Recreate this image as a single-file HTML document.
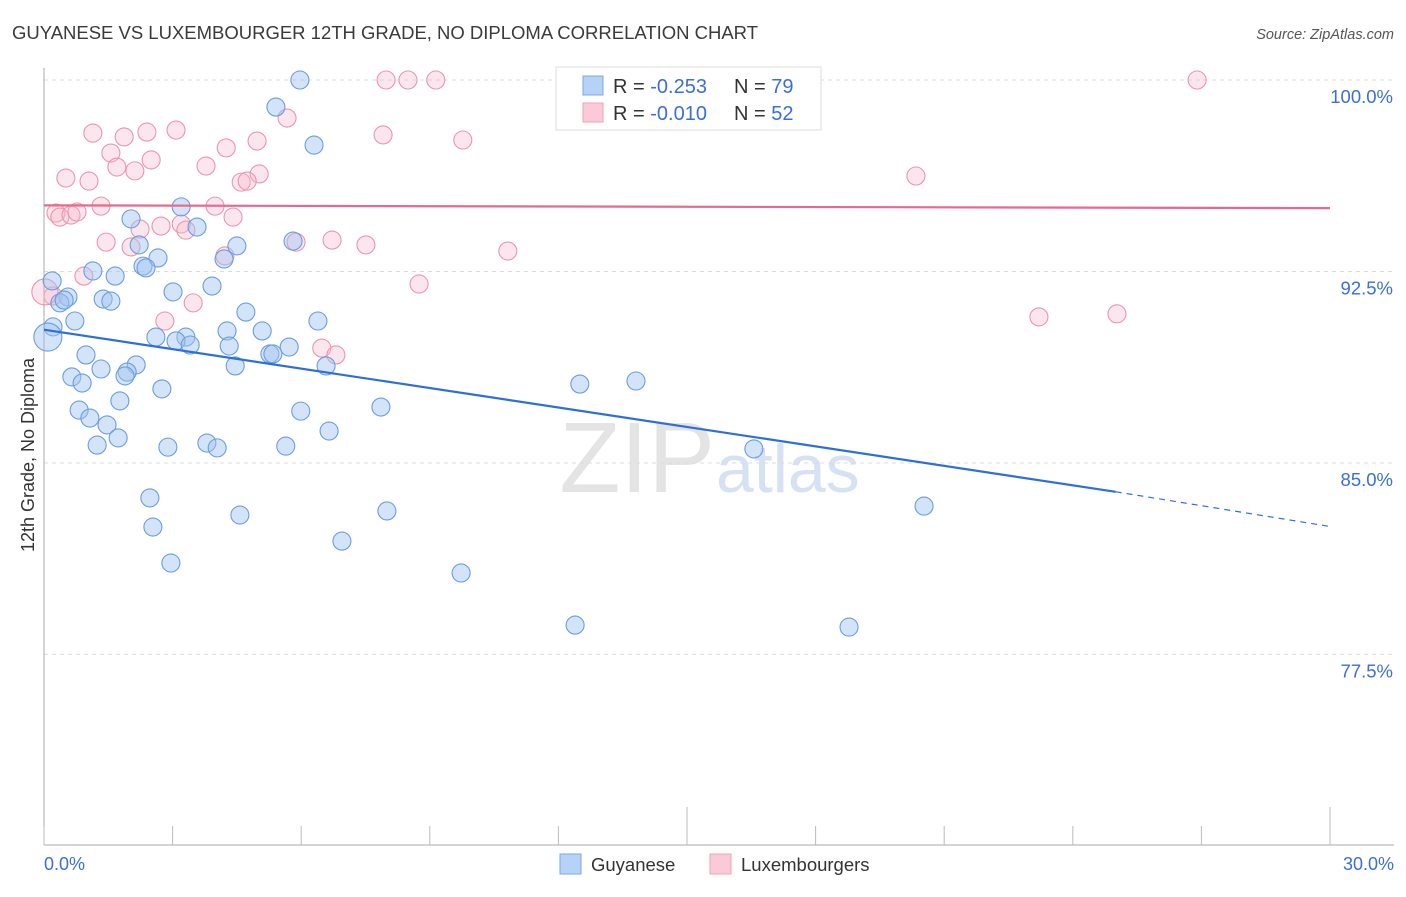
<!DOCTYPE html>
<html><head><meta charset="utf-8"><style>
body{margin:0;background:#fff;font-family:"Liberation Sans",sans-serif;}
svg text{font-family:"Liberation Sans",sans-serif;}
</style></head><body>
<svg width="1406" height="892" id="c">
<text x="12" y="39" font-size="18.5" fill="#3a3a3a" textLength="746">GUYANESE VS LUXEMBOURGER 12TH GRADE, NO DIPLOMA CORRELATION CHART</text>
<text x="1394" y="39" font-size="14.5" fill="#555" font-style="italic" text-anchor="end">Source: ZipAtlas.com</text>
<text x="0" y="0" transform="translate(34,455) rotate(-90)" font-size="18" fill="#333" text-anchor="middle">12th Grade, No Diploma</text>
<text x="715" y="492" font-size="100" fill="#e4e4e4" text-anchor="end" font-family="Liberation Serif">ZIP</text>
<text x="716" y="492" font-size="68" fill="#d6e2f4">atlas</text>
<g id="grid"></g><g id="axes"></g><g id="pts"></g><g id="trend"></g>
<g>
<rect x="556" y="67" width="265" height="63" fill="#fff" stroke="#ddd"/>
<rect x="583" y="76" width="20" height="19" fill="#b6d2f6" stroke="#7aa7e4"/>
<rect x="583" y="103" width="20" height="19" fill="#fbc9d7" stroke="#eda3b9"/>
<text x="613" y="93" font-size="20" fill="#333">R = <tspan fill="#3a6fd8">-0.253</tspan><tspan x="734">N = </tspan><tspan fill="#3a6fd8">79</tspan></text>
<text x="613" y="120" font-size="20" fill="#333">R = <tspan fill="#3a6fd8">-0.010</tspan><tspan x="734">N = </tspan><tspan fill="#3a6fd8">52</tspan></text>
</g>
<g>
<rect x="560" y="854" width="21" height="20" fill="#b6d2f6" stroke="#7aa7e4"/>
<text x="591" y="871" font-size="18.5" fill="#333">Guyanese</text>
<rect x="710" y="854" width="21" height="20" fill="#fbc9d7" stroke="#eda3b9"/>
<text x="741" y="871" font-size="18.5" fill="#333">Luxembourgers</text>
</g>
</svg>
<script>
const yTicks=[100,92.5,85,77.5];
const xTickLabels=["0.0%","30.0%"];
const blueX=[5.97,5.41,6.30,3.20,2.03,3.57,2.22,4.50,5.81,4.20,2.66,2.31,2.38,1.14,1.66,0.19,3.92,3.01,0.56,0.37,1.38,1.56,4.71,6.39,0.72,0.21,5.09,4.27,2.61,3.31,3.08,3.41,4.32,5.72,5.27,5.34,0.98,6.58,4.46,2.15,1.33,1.94,1.89,0.65,0.89,2.75,12.50,13.81,1.77,7.86,0.82,5.99,1.07,1.47,6.65,1.73,1.24,3.80,4.04,2.89,5.64,16.56,2.47,20.53,8.00,4.57,2.54,6.95,2.96,9.73,12.39,18.78,0.47,0.09];
const blueY=[100,98.94,97.45,95.03,94.56,94.24,93.54,93.50,93.69,92.99,93.03,92.71,92.64,92.52,92.32,92.13,91.93,91.70,91.50,91.27,91.42,91.34,90.91,90.56,90.56,90.33,90.17,90.17,89.93,89.93,89.78,89.62,89.58,89.54,89.27,89.27,89.23,88.80,88.80,88.84,88.68,88.56,88.41,88.37,88.13,87.90,88.09,88.21,87.43,87.19,87.07,87.03,86.76,86.49,86.25,85.98,85.70,85.78,85.59,85.62,85.66,85.55,83.63,83.31,83.12,82.96,82.49,81.94,81.08,80.69,78.65,78.57,91.38,89.93];
const pinkX=[7.98,8.49,9.14,26.90,5.67,1.14,1.87,2.40,3.08,7.91,9.77,1.56,2.50,4.25,4.97,1.70,2.12,3.78,0.51,1.05,5.02,4.60,4.74,20.34,1.33,3.99,4.41,0.28,0.37,0.63,0.77,3.20,2.73,3.31,2.24,5.88,1.45,2.03,6.72,7.51,10.82,4.22,0.93,8.75,0.21,3.48,2.82,25.03,23.21,6.48,6.81,0.02];
const pinkY=[100,100,100,100,98.51,97.92,97.77,97.96,98.04,97.85,97.65,97.14,96.87,97.34,97.61,96.59,96.44,96.63,96.16,96.04,96.32,96.00,96.04,96.24,95.06,95.06,94.63,94.79,94.63,94.71,94.83,94.36,94.28,94.12,94.16,93.65,93.65,93.46,93.73,93.54,93.30,93.11,92.32,92.01,91.54,91.27,90.56,90.84,90.72,89.50,89.23,91.70];
const blueTrend=[90.22,83.87,82.51];const blueTrendX=[0,25,30];
const pinkTrend=[95.09,94.98];const pinkTrendX=[0,30];
const X0=44,X1=1330,Y0=80,PXPER=25.53;
const sx=v=>X0+(X1-X0)*v/30, sy=v=>Y0+(100-v)*PXPER;
const NS="http://www.w3.org/2000/svg";
function mk(t,a,p){const e=document.createElementNS(NS,t);for(const k in a)e.setAttribute(k,a[k]);document.getElementById(p).appendChild(e);return e;}
yTicks.forEach((t,i)=>{
 const g=mk('line',{x1:X0,x2:1394,y1:sy(t),y2:sy(t),stroke:'#dcdcdc','stroke-dasharray':'4,4'},'grid');
 
 
 const l=mk('text',{x:1393,y:sy(t)+23,'font-size':18.5,fill:'#3a6fd8','text-anchor':'end'},'grid');l.textContent=t.toFixed(1)+'%';
 
 
});
mk('line',{x1:X0,x2:X0,y1:68,y2:845,stroke:'#aaa'},'axes');
mk('line',{x1:X0,x2:1394,y1:845,y2:845,stroke:'#aaa'},'axes');
for(let i=0;i<=10;i++){const x=sx(i*3);mk('line',{x1:x,x2:x,y1:(i==5||i==10)?807:826,y2:845,stroke:'#bbb'},'axes');}
[[0,'start',44],[1,'end',1394]].forEach(([i,a,x])=>{const t=mk('text',{x:x,y:870,'font-size':18,fill:'#3a6fd8','text-anchor':a},'axes');t.textContent=xTickLabels[i];
 
 });
pinkX.forEach((v,i)=>{const c=mk('circle',{cx:sx(v),cy:sy(pinkY[i]),r:i==pinkX.length-1?13:9,fill:'rgba(247,182,202,0.35)',stroke:'#ea95b0','stroke-width':1.1},'pts');
 
 });
blueX.forEach((v,i)=>{const c=mk('circle',{cx:sx(v),cy:sy(blueY[i]),r:i==blueX.length-1?14:9,fill:'rgba(160,196,240,0.45)',stroke:'#6a9de0','stroke-width':1.1},'pts');
 
 });
const bt=mk('line',{x1:sx(blueTrendX[0]),y1:sy(blueTrend[0]),x2:sx(blueTrendX[1]),y2:sy(blueTrend[1]),stroke:'#2c6fdc','stroke-width':2.2},'trend');


mk('line',{x1:sx(blueTrendX[1]),y1:sy(blueTrend[1]),x2:sx(blueTrendX[2]),y2:sy(blueTrend[2]),stroke:'#2c6fdc','stroke-width':1.2,'stroke-dasharray':'6,5'},'trend');
const pt=mk('line',{x1:sx(pinkTrendX[0]),y1:sy(pinkTrend[0]),x2:sx(pinkTrendX[1]),y2:sy(pinkTrend[1]),stroke:'#e8688f','stroke-width':2.2},'trend');


</script>
</body></html>
